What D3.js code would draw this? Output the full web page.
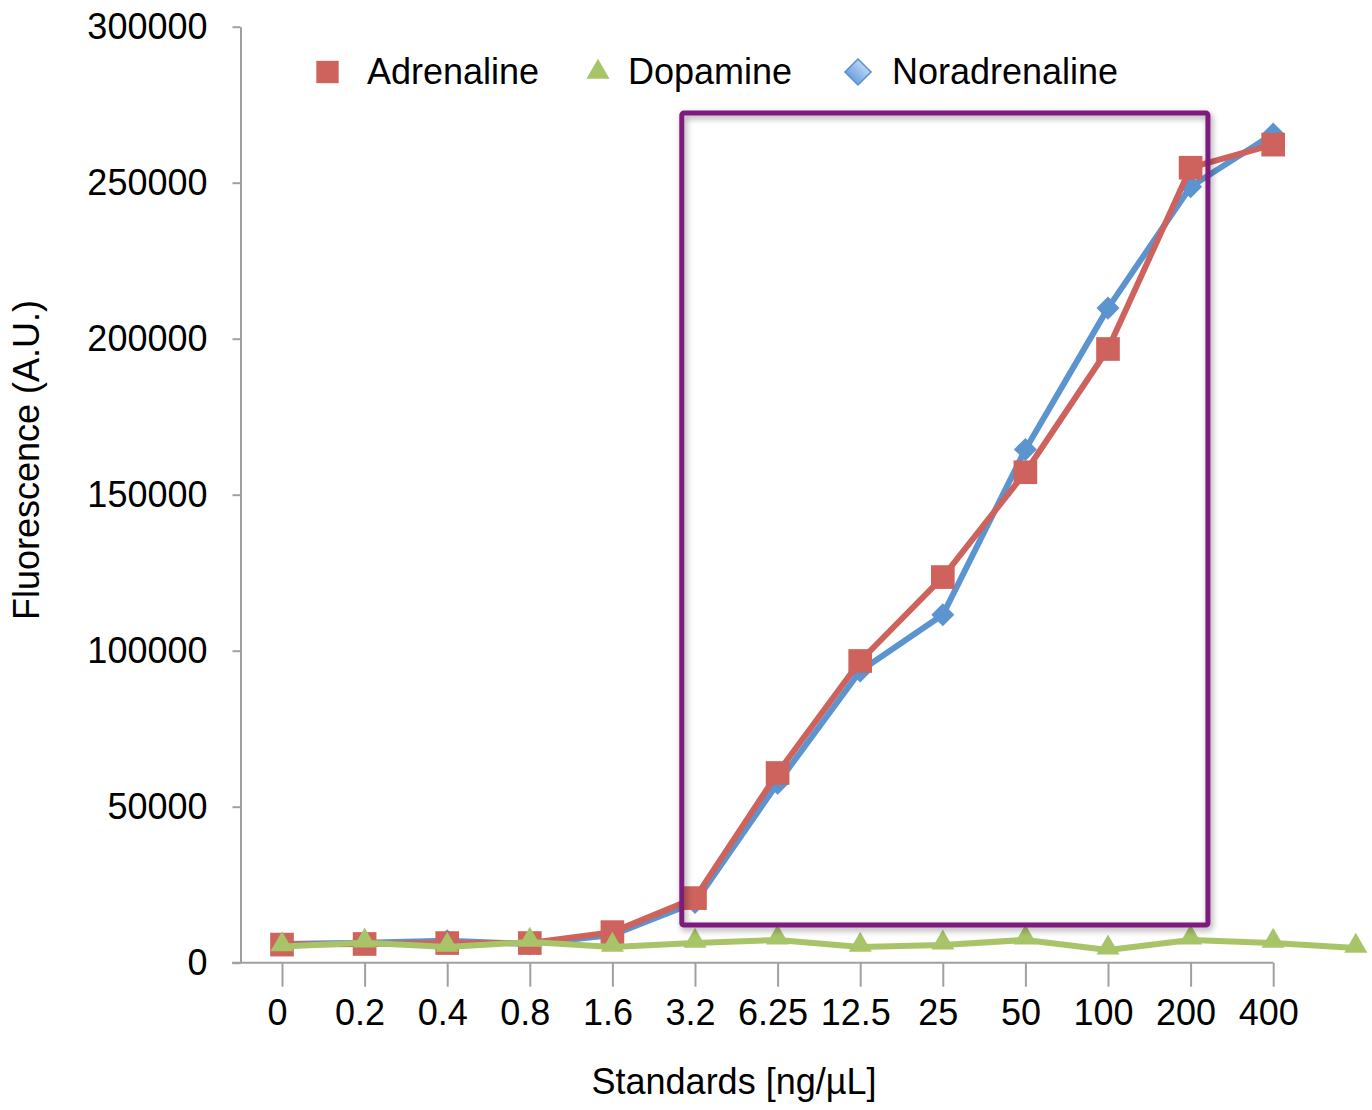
<!DOCTYPE html>
<html>
<head>
<meta charset="utf-8">
<script src="https://cdn.jsdelivr.net/npm/d3@7"></script>
<style>
  body { margin: 0; background: #fff; }
  svg text { font-family: "Liberation Sans", Arial, sans-serif; fill: #000; }
</style>
</head>
<body>
<svg id="svg1" width="1372" height="1110"></svg>
<script>
// categories (last point of Dopamine has no label)
var standards = ["0", "0.2", "0.4", "0.8", "1.6", "3.2", "6.25", "12.5", "25", "50", "100", "200", "400", ""];
var yTicks = [0, 50000, 100000, 150000, 200000, 250000, 300000];

var adrenaline    = [5800, 6000, 6300, 6300, 9800, 20700, 60800, 96700, 123600, 157200, 196700, 254800, 262200];
var dopamine      = [5200, 6400, 5000, 6600, 5000, 6300, 7300, 5000, 5700, 7300, 4100, 7300, 6300, 4700];
var noradrenaline = [6000, 6400, 7000, 6000, 8900, 19300, 57500, 93500, 111500, 164500, 209800, 248700, 265600];

// highlight box, in data units (category index / fluorescence)
var boxX = [4.84, 11.21];
var boxY = [12100, 272300];

var colors = { red: "#CD635C", green: "#A8C468", blue: "#5B94CF", purple: "#7D1A7C", axis: "#A0A0A0" };

var svg = d3.select("body").select("svg#svg1");

var x = d3.scaleLinear()
  .domain([0, standards.length - 1])
  .range([282, 282 + 13 * 82.6]);

var y = d3.scaleLinear()
  .domain([0, 300000])
  .range([962.7, 26.7]);

var defs = svg.append("defs");
var shadow = defs.append("filter").attr("id", "shadow")
  .attr("x", "-5%").attr("y", "-5%").attr("width", "110%").attr("height", "110%");
shadow.append("feDropShadow")
  .attr("dx", 2).attr("dy", 3).attr("stdDeviation", 3)
  .attr("flood-color", "#000").attr("flood-opacity", 0.35);

var grad = defs.append("linearGradient").attr("id", "diamondGrad")
  .attr("x1", 0).attr("y1", 0).attr("x2", 0).attr("y2", 1);
grad.append("stop").attr("offset", "0%").attr("stop-color", "#B9D4F3");
grad.append("stop").attr("offset", "100%").attr("stop-color", "#6FA2DE");

/* Axes */
var yAxis = d3.axisLeft(y)
  .tickValues(yTicks)
  .tickFormat(d3.format("d"))
  .tickSizeInner(8)
  .tickSizeOuter(0)
  .tickPadding(25);

var gy = svg.append("g")
  .attr("id", "y-axis")
  .attr("transform", "translate(240.5, 0)")
  .call(yAxis);
gy.selectAll("path, line").attr("stroke", colors.axis).attr("stroke-width", 2);
gy.selectAll("text").attr("font-size", 36);

var labelIdx = d3.range(13);
var xAxis = d3.axisBottom(x)
  .tickValues(labelIdx)
  .tickFormat(function(i) { return standards[i]; })
  .tickSizeInner(24)
  .tickSizeOuter(0)
  .tickPadding(13);

var gx = svg.append("g")
  .attr("id", "x-axis")
  .attr("transform", "translate(0, " + y(0) + ")")
  .call(xAxis);
gx.select(".domain").remove();
gx.append("line")
  .attr("x1", 232).attr("x2", x(12))
  .attr("stroke", colors.axis).attr("stroke-width", 2);
gx.selectAll("line").attr("stroke", colors.axis).attr("stroke-width", 2);
gx.selectAll("text").attr("font-size", 36).attr("dx", -5);

/* Axis titles */
svg.append("text")
  .attr("transform", "translate(39, 460) rotate(-90)")
  .attr("text-anchor", "middle")
  .attr("font-size", 36)
  .text("Fluorescence (A.U.)");

svg.append("text")
  .attr("x", 734).attr("y", 1094)
  .attr("text-anchor", "middle")
  .attr("font-size", 36)
  .text("Standards [ng/\u00b5L]");

/* Series */
var line = d3.line()
  .x(function(d, i) { return x(i); })
  .y(function(d) { return y(d); });

var plot = svg.append("g").attr("id", "plot");

// diamonds are squares turned 45 degrees
var series = [
  { name: "Noradrenaline", values: noradrenaline, color: colors.blue, width: 6, symbol: d3.symbolSquare, size: 265, rot: 45, dy: 0 },
  { name: "Adrenaline", values: adrenaline, color: colors.red, width: 6, symbol: d3.symbolSquare, size: 560, rot: 0, dy: 0 },
  { name: "Dopamine", values: dopamine, color: colors.green, width: 6, symbol: d3.symbolTriangle, size: 230, rot: 0, dy: -2 }
];

series.forEach(function(s) {
  plot.append("path")
    .datum(s.values)
    .attr("fill", "none")
    .attr("stroke", s.color)
    .attr("stroke-width", s.width)
    .attr("stroke-linejoin", "round")
    .attr("d", line);

  var sym = d3.symbol().type(s.symbol).size(s.size);
  plot.selectAll(null)
    .data(s.values)
    .enter()
    .append("path")
    .attr("transform", function(d, i) {
      return "translate(" + x(i) + "," + (y(d) + s.dy) + ") rotate(" + s.rot + ")";
    })
    .attr("fill", s.color)
    .attr("d", sym);
});

/* Highlight box */
svg.append("rect")
  .attr("x", x(boxX[0]))
  .attr("y", y(boxY[1]))
  .attr("width", x(boxX[1]) - x(boxX[0]))
  .attr("height", y(boxY[0]) - y(boxY[1]))
  .attr("rx", 2)
  .attr("fill", "none")
  .attr("stroke", colors.purple)
  .attr("stroke-width", 5)
  .attr("filter", "url(#shadow)");

/* Legend */
var legendItems = [
  { name: "Adrenaline", sx: 327.5, tx: 367, symbol: d3.symbolSquare, size: 500, rot: 0, fill: colors.red, stroke: "none" },
  { name: "Dopamine", sx: 598, tx: 628, symbol: d3.symbolTriangle, size: 230, rot: 0, fill: colors.green, stroke: "none" },
  { name: "Noradrenaline", sx: 858, tx: 892, symbol: d3.symbolSquare, size: 340, rot: 45, fill: "url(#diamondGrad)", stroke: "#5A8ED0" }
];

var legend = svg.append("g").attr("id", "legend");
legendItems.forEach(function(it) {
  legend.append("path")
    .attr("transform", "translate(" + it.sx + ", 72) rotate(" + it.rot + ")")
    .attr("d", d3.symbol().type(it.symbol).size(it.size))
    .attr("fill", it.fill)
    .attr("stroke", it.stroke)
    .attr("stroke-width", 1.5);
  legend.append("text")
    .attr("x", it.tx).attr("y", 84)
    .attr("font-size", 36)
    .text(it.name);
});
</script>
</body>
</html>
